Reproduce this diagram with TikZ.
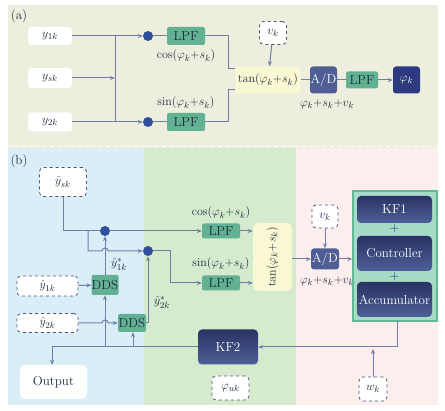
\documentclass[tikz,border=0pt]{standalone}
\usetikzlibrary{arrows.meta,calc}
\definecolor{bga}{HTML}{EEEEDE}
\definecolor{bgb}{HTML}{DAEEF8}
\definecolor{bgg}{HTML}{D6EACD}
\definecolor{bgp}{HTML}{FCEEEC}
\definecolor{lc}{HTML}{6F7DA8}
\definecolor{dc}{HTML}{4A5580}
\definecolor{lpfc}{HTML}{62B193}
\definecolor{dotc}{HTML}{2F4E9C}
\definecolor{tanc}{HTML}{FAF8D2}
\definecolor{adc}{HTML}{4F5F95}
\definecolor{navy}{HTML}{2E3A80}
\definecolor{ntop}{HTML}{2A3363}
\definecolor{nbot}{HTML}{4E5F98}
\definecolor{contf}{HTML}{A6DCC6}
\definecolor{contd}{HTML}{62B996}
\definecolor{txt}{HTML}{1E2A40}
\begin{document}
\begin{tikzpicture}[x=1pt,y=-1pt,
  every node/.style={font=\fontsize{13}{15}\selectfont, text=txt, inner sep=0pt},
  line/.style={draw=lc, line width=1pt},
  arr/.style={line, -{Stealth[length=5pt,width=4pt]}},
  wbox/.style={fill=white, rounded corners=3pt},
  dbox/.style={fill=white, draw=dc, dashed, line width=0.8pt, rounded corners=4pt},
  gbox/.style={fill=lpfc, rounded corners=2pt},
  nbox/.style={top color=ntop, bottom color=nbot, rounded corners=4pt, text=white},
  dotn/.style={circle, fill=dotc, minimum size=10pt}
]
\useasboundingbox (0,0) rectangle (445,411);
% backgrounds
\fill[bga] (8,5) rectangle (438,148);
\fill[bgb] (8,148) rectangle (144,405);
\fill[bgg] (144,148) rectangle (296,405);
\fill[bgp] (296,148) rectangle (438,405);
\draw[white, line width=1pt, dash pattern=on 4pt off 3pt] (8,147) -- (438,147);
\node (la) at (19,16) {(a)};
\node (lb) at (19,161) {(b)};

% ---------- panel (a)
\node[wbox, minimum width=44pt, minimum height=18pt] (y1k) at (50,36) {$y_{1k}$};
\node[wbox, minimum width=44pt, minimum height=20pt] (ysk) at (50,78) {$y_{sk}$};
\node[wbox, minimum width=44pt, minimum height=19pt] (y2k) at (50,122) {$y_{2k}$};
\node[dotn] (dot1) at (148,36) {};
\node[dotn] (dot2) at (148,122) {};
\node[gbox, minimum width=38pt, minimum height=18pt] (lpf1) at (186,36) {LPF};
\node[gbox, minimum width=38pt, minimum height=18pt] (lpf2) at (186,122) {LPF};
\node (cosa) at (186,56) {$\cos(\varphi_k{+}s_k)$};
\node (sina) at (186,103) {$\sin(\varphi_k{+}s_k)$};
\node[fill=tanc, rounded corners=3pt, minimum width=65pt, minimum height=27pt] (tana) at (268,80) {$\tan(\varphi_k{+}s_k)$};
\node[dbox, minimum width=27pt, minimum height=23pt] (vka) at (273,33) {$v_k$};
\node[fill=adc, rounded corners=3pt, minimum width=27pt, minimum height=27pt, text=white] (ada) at (323.5,80) {A/D};
\node[gbox, minimum width=32pt, minimum height=17pt] (lpf3) at (362,80) {LPF};
\node[fill=navy, rounded corners=3pt, minimum width=27pt, minimum height=27pt, text=white] (phia) at (406.5,80) {$\varphi_k$};
\node (suma) at (327,104) {$\varphi_k{+}s_k{+}v_k$};

\coordinate (ja) at (115,36);
\coordinate (jb) at (115,122);
\coordinate (jc) at (115,78);
\coordinate (ca) at (228,69);
\coordinate (cb) at (228,90);
\draw[arr] (y1k) -- (dot1);
\draw[arr] (y2k) -- (dot2);
\draw[line] (ja) -- (jb);
\draw[arr] (ysk) -- (jc);
\draw[line] (dot1) -- (lpf1);
\draw[line] (dot2) -- (lpf2);
\draw[line] (lpf1.east) -| (ca) -- (ca -| tana.west);
\draw[line] (lpf2.east) -| (cb) -- (cb -| tana.west);
\draw[arr] (vka) -- (tana);
\draw[line] (tana) -- (ada);
\draw[line] (ada) -- (lpf3);
\draw[arr] (lpf3) -- (phia);

% ---------- panel (b)
\node[dbox, minimum width=47pt, minimum height=29pt] (ysh) at (63,182) {$\hat{y}_{sk}$};
\node[dotn] (dot3) at (105,231) {};
\node[dotn] (dot4) at (148,251) {};
\node (ys1) at (119,264) {$\hat{y}^{*}_{1k}$};
\node (ys2) at (162,302) {$\hat{y}^{*}_{2k}$};
\node[gbox, minimum width=27pt, minimum height=20pt] (dds1) at (105,285) {DDS};
\node[gbox, minimum width=28pt, minimum height=18pt] (dds2) at (132,323) {DDS};
\node[dbox, minimum width=61pt, minimum height=20pt] (y1h) at (47.5,286) {$\hat{y}_{1k}$};
\node[dbox, minimum width=61pt, minimum height=19pt] (y2h) at (47.5,323) {$\hat{y}_{2k}$};
\node[gbox, minimum width=38pt, minimum height=15pt] (lpf4) at (221,231) {LPF};
\node[gbox, minimum width=38pt, minimum height=15pt] (lpf5) at (221,283) {LPF};
\node (cosb) at (221,213) {$\cos(\varphi_k{+}s_k)$};
\node (sinb) at (221,264) {$\sin(\varphi_k{+}s_k)$};
\node[fill=tanc, rounded corners=5pt, minimum width=39pt, minimum height=68pt] (tanb) at (272.5,257) {};
\node[rotate=90] (tant) at (tanb.center) {$\tan(\varphi_k{+}s_k)$};
\node[fill=adc, rounded corners=3pt, minimum width=28pt, minimum height=21pt, text=white] (adb) at (325,259) {A/D};
\node[dbox, minimum width=26pt, minimum height=23pt] (vkb) at (325,216.5) {$v_k$};
\node (sumb) at (327,281) {$\varphi_k{+}s_k{+}v_k$};
\node[fill=contf, draw=contd, line width=1.3pt, minimum width=84pt, minimum height=130pt] (cont) at (395,256) {};
\node[nbox, minimum width=75pt, minimum height=27pt] (kf1) at (394.5,209.5) {KF1};
\node[nbox, minimum width=75pt, minimum height=35pt] (ctrl) at (394.5,253.5) {Controller};
\node[nbox, minimum width=75pt, minimum height=35pt] (acc) at (394.5,299.5) {Accumulator};
\node[text=dotc, font=\fontsize{11}{11}\selectfont\bfseries] (p1) at (394.5,229) {+};
\node[text=dotc, font=\fontsize{11}{11}\selectfont\bfseries] (p2) at (394.5,277) {+};
\node[nbox, minimum width=60pt, minimum height=35pt] (kf2) at (228,347) {KF2};
\node[dbox, minimum width=28pt, minimum height=24pt] (wk) at (373,389) {$w_k$};
\node[dbox, minimum width=37pt, minimum height=24pt] (phu) at (230.5,388) {$\varphi_{uk}$};
\node[wbox, minimum width=67pt, minimum height=34pt, rounded corners=5pt] (out) at (53.5,382) {Output};

\coordinate (s1) at (63,231);
\coordinate (s2) at (88,231);
\coordinate (s3) at (88,251);
\coordinate (s4) at (102,251);
\coordinate (t1) at (170,251);
\coordinate (t2) at (170,283);
\coordinate (j2) at (102,323);
\coordinate (cbot) at (397,321);
\coordinate (wkt) at (373,349);
\coordinate (o1) at (52,347);
\coordinate (b1) at (105,347);
\coordinate (b2) at (133,347);

\draw[line] (ysh.south) -- (s1) -- (dot3);
\draw[arr] (dot3) -- (lpf4);
\draw[arr] (s2) -- (s3) -- (s4) arc[start angle=180, end angle=360, radius=3] -- (dot4);
\draw[arr] (dds1) -- (dot3);
\draw[arr] (y1h) -- (dds1);
\draw[arr] (y2h.east) -- (j2) arc[start angle=180, end angle=360, radius=3] -- (dds2.west);
\draw[arr] (dds2.east) -| (dot4);
\draw[line] (dot4) -- (t1) -- (t2);
\draw[arr] (t2) -- (lpf5);
\draw[arr] (lpf4.east) -- (lpf4.east -| tanb.west);
\draw[arr] (lpf5.east) -- (lpf5.east -| tanb.west);
\draw[arr] (tanb.east |- adb) -- (adb);
\draw[arr] (vkb) -- (adb);
\draw[arr] (adb) -- (adb -| cont.west);
\draw[arr] (cbot) |- (kf2.east);
\draw[arr] (wk) -- (wkt);
\draw[line] (kf2.west) -- (o1);
\draw[arr] (o1) -- (out.north -| o1);
\draw[arr] (b1) -- (dds1);
\draw[arr] (b2) -- (b2 |- dds2.south);
\end{tikzpicture}
\end{document}
